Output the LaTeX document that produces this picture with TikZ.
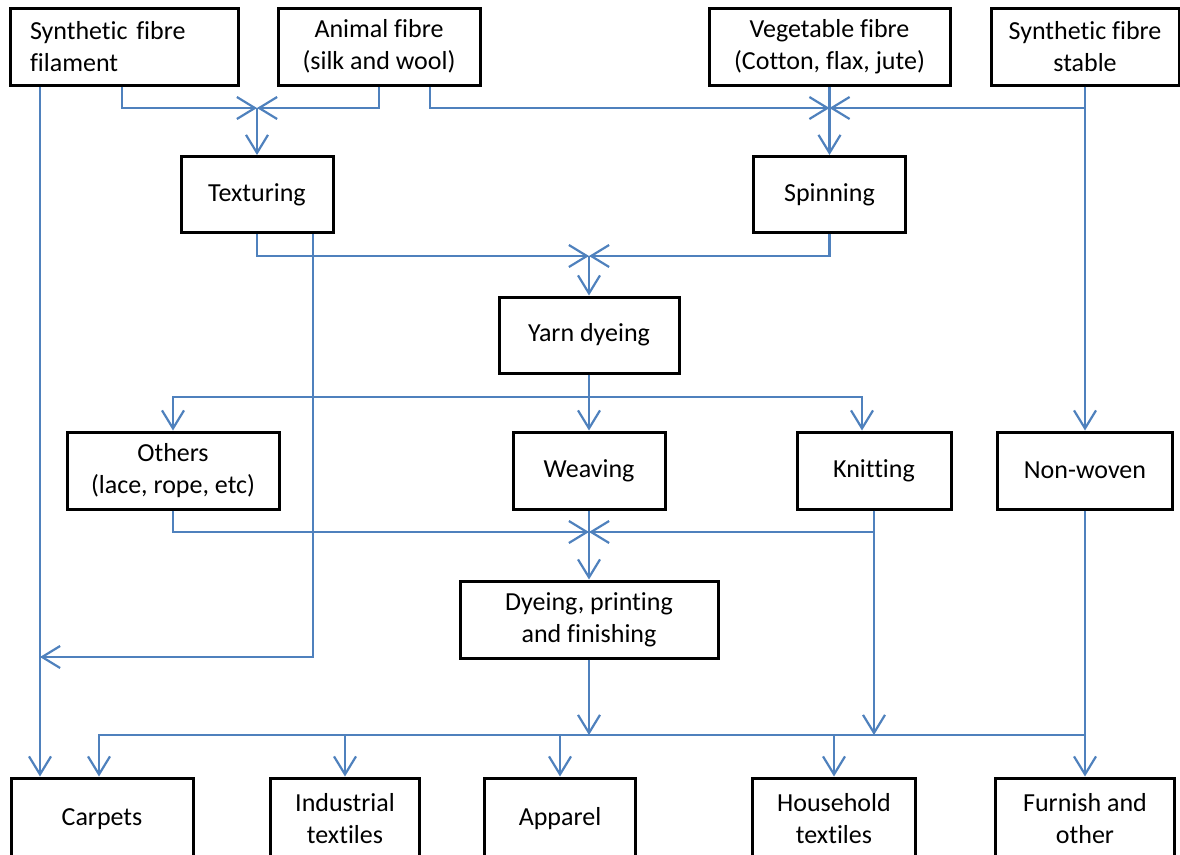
\documentclass[tikz,border=0pt]{standalone}
\usepackage{fontspec}
\setmainfont{Carlito}[Ligatures=NoCommon]
\usetikzlibrary{arrows.meta}
\definecolor{lineblue}{HTML}{4F81BD}
\begin{document}
\begin{tikzpicture}[x=1pt,y=-1pt,
  box/.style={draw=black,line width=3pt,fill=white,inner sep=0pt,align=center,
    minimum height=77pt,font=\fontsize{26pt}{32pt}\selectfont},
  line/.style={draw=lineblue,line width=2.2pt},
  conn/.style={line,-{Straight Barb[length=18pt,width=22pt]}}]
\useasboundingbox (0,0) rectangle (1180,854);
\clip (0,0) rectangle (1180,854);
% top row
\node[box,minimum width=228pt,text width=188pt,align=left] (sf) at (124,46.5) {Synthetic fibre\\filament};
\node[box,minimum width=202pt] (af) at (379,46.5) {Animal fibre\\(silk and wool)};
\node[box,minimum width=241pt] (vf) at (829.5,46.5) {Vegetable fibre\\(Cotton, flax, jute)};
\node[box,minimum width=188pt] (ss) at (1085,46.5) {Synthetic fibre\\stable};
% second row
\node[box,minimum width=152pt,minimum height=76pt] (tex) at (257,194.5) {Texturing};
\node[box,minimum width=152pt,minimum height=76pt] (spin) at (829.5,194.5) {Spinning};
% yarn dyeing
\node[box,minimum width=180pt,minimum height=76pt] (yd) at (589,335) {Yarn dyeing};
% fourth row
\node[box,minimum width=212pt] (oth) at (173,470.5) {Others\\(lace, rope, etc)};
\node[box,minimum width=152pt] (wea) at (589,470.5) {Weaving};
\node[box,minimum width=154pt] (knit) at (874,470.5) {Knitting};
\node[box,minimum width=175pt] (nw) at (1085,470.5) {Non-woven};
% dyeing
\node[box,minimum width=258pt] (dpf) at (589,619.5) {Dyeing, printing\\and finishing};
% bottom row
\node[box,minimum width=182pt,minimum height=82pt] (car) at (102,819) {Carpets};
\node[box,minimum width=149pt,minimum height=82pt] (ind) at (345,819) {Industrial\\textiles};
\node[box,minimum width=151pt,minimum height=82pt] (app) at (560,819) {Apparel};
\node[box,minimum width=163pt,minimum height=82pt] (hh) at (834,819) {Household\\textiles};
\node[box,minimum width=179pt,minimum height=82pt] (fur) at (1085,819) {Furnish and\\other};
% merge coordinates
\coordinate (m1) at (257,108);
\coordinate (m2) at (829.5,108);
\coordinate (m3) at (589,256);
\coordinate (s1) at (589,397);
\coordinate (m4) at (589,532);
\coordinate (j1) at (40,657);
\coordinate (bdp) at (589,735);
\coordinate (bkn) at (874,735);
\coordinate (bnw) at (1085,735);
% connectors
\draw[conn] ([xshift=-84pt]sf.south) -- ([xshift=-62pt]car.north);
\draw[conn] ([xshift=-2pt]sf.south) |- (m1);
\draw[conn] (af.south) |- (m1);
\draw[conn] (m1) -- (tex.north);
\draw[conn] ([xshift=51pt]af.south) |- (m2);
\draw[conn] (ss.south) |- (m2);
\draw[conn] (vf.south) -- (spin.north);
\draw[conn] (ss.south) -- (nw.north);
\draw[conn] (tex.south) |- (m3);
\draw[conn] (spin.south) |- (m3);
\draw[conn] (m3) -- (yd.north);
\draw[conn] ([xshift=56pt]tex.south) |- (j1);
\draw[line] (yd.south) -- (s1);
\draw[conn] (s1) -- (wea.north);
\draw[conn] (s1) -| (oth.north);
\draw[conn] (s1) -| ([xshift=-12pt]knit.north);
\draw[conn] (oth.south) |- (m4);
\draw[conn] (knit.south) |- (m4);
\draw[conn] (wea.south) -- (dpf.north);
\draw[conn] (dpf.south) -- (bdp);
\draw[conn] (knit.south) -- (bkn);
\draw[conn] (nw.south) -- (fur.north);
\draw[conn] (bnw) -| ([xshift=-3pt]car.north);
\draw[conn] (ind.north |- bnw) -- (ind.north);
\draw[conn] (app.north |- bnw) -- (app.north);
\draw[conn] (hh.north |- bnw) -- (hh.north);
\end{tikzpicture}
\end{document}
